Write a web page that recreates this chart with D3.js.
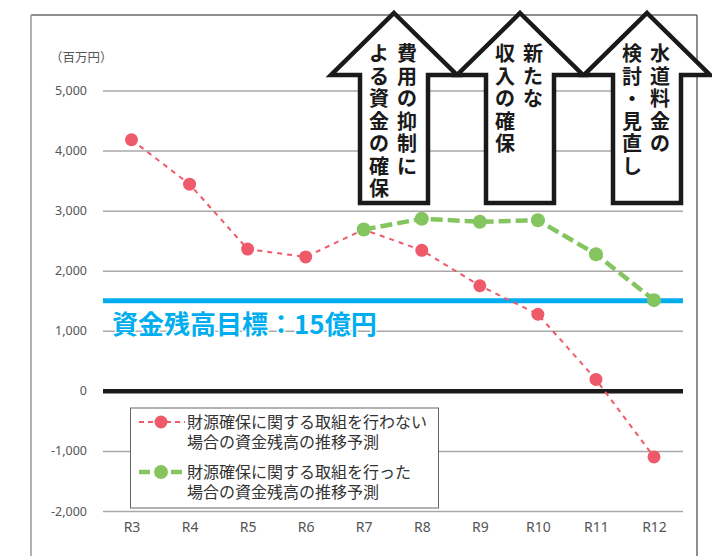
<!DOCTYPE html>
<html>
<head>
<meta charset="utf-8">
<script src="https://cdn.jsdelivr.net/npm/d3@7"></script>
<style>
  html, body { margin: 0; padding: 0; background: #fff; }
  svg { display: block; }
</style>
</head>
<body>
<div id="chart"></div>
<script>
// data (百万円)
const years = ['R3', 'R4', 'R5', 'R6', 'R7', 'R8', 'R9', 'R10', 'R11', 'R12'];
const noActionValues = [4180, 3440, 2360, 2230, 2685, 2340, 1750, 1275, 190, -1100];
const withActionValues = [null, null, null, null, 2685, 2865, 2815, 2840, 2275, 1510];
const yTicks = [5000, 4000, 3000, 2000, 1000, 0, -1000, -2000];
const yTickLabels = ['5,000', '4,000', '3,000', '2,000', '1,000', '0', '-1,000', '-2,000'];
const targetValue = 1500;
const targetLabel = '資金残高目標：15億円';
const unitLabel = '（百万円）';
const legendLabels = [
  ['財源確保に関する取組を行わない', '場合の資金残高の推移予測'],
  ['財源確保に関する取組を行った', '場合の資金残高の推移予測']
];
// arrow columns, right column first (vertical text)
const arrowTexts = [
  ['費用の抑制に', 'よる資金の確保'],
  ['新たな', '収入の確保'],
  ['水道料金の', '検討・見直し']
];

const width = 712, height = 556;
const RED = '#ef5a6b', GREEN = '#84c55f', BLUE = '#00aeef';
const JP = '"Noto Sans CJK JP", "Noto Sans", sans-serif';

const svg = d3.select('#chart')
  .append('svg')
  .attr('width', width)
  .attr('height', height);

// X scale (points)
const x = d3.scalePoint()
  .domain(years)
  .range([131.5, 654]);

// Y scale
const y = d3.scaleLinear()
  .domain([-2000, 5000])
  .range([511, 90.5]);

const gridLeft = 103, gridRight = 683;

// outer frame
svg.append('line').attr('x1', 31).attr('x2', 697).attr('y1', 15).attr('y2', 15)
  .attr('stroke', '#222').attr('stroke-width', 1.2);
svg.append('line').attr('x1', 31).attr('x2', 31).attr('y1', 15).attr('y2', height)
  .attr('stroke', '#999').attr('stroke-width', 1.5);
svg.append('line').attr('x1', 697).attr('x2', 697).attr('y1', 15).attr('y2', height)
  .attr('stroke', '#444').attr('stroke-width', 1.2);

// Y axis with grid
const yAxis = svg.append('g')
  .attr('transform', `translate(${gridLeft},0)`)
  .call(d3.axisLeft(y)
    .tickValues(yTicks)
    .tickSize(-(gridRight - gridLeft))
    .tickPadding(16)
    .tickFormat((d, i) => yTickLabels[i]));
yAxis.select('.domain').remove();
yAxis.selectAll('line')
  .attr('stroke', d => d === 0 ? '#1a1a1a' : '#a8a8a8')
  .attr('stroke-width', d => d === 0 ? 4.5 : 1.5);
yAxis.selectAll('text')
  .attr('font-family', '"Noto Sans", sans-serif')
  .attr('font-size', '12.5px')
  .attr('fill', '#555');

svg.append('text')
  .attr('x', 50)
  .attr('y', 62)
  .attr('font-family', JP)
  .attr('font-size', '12.5px')
  .attr('fill', '#555')
  .text(unitLabel);

// X axis labels
const xAxis = svg.append('g')
  .attr('transform', `translate(0,${y(-2000)})`)
  .call(d3.axisBottom(x).tickSize(0).tickPadding(11));
xAxis.select('.domain').remove();
xAxis.selectAll('text')
  .attr('font-family', '"Liberation Sans Narrow", "Noto Sans", sans-serif')
  .attr('font-size', '14px')
  .attr('fill', '#555');

// target line
svg.append('line')
  .attr('x1', gridLeft).attr('x2', gridRight)
  .attr('y1', y(targetValue)).attr('y2', y(targetValue))
  .attr('stroke', BLUE)
  .attr('stroke-width', 5);

svg.append('text')
  .attr('x', 112)
  .attr('y', 334)
  .attr('font-family', JP)
  .attr('font-weight', 700)
  .attr('font-size', '26px')
  .attr('fill', BLUE)
  .attr('stroke', '#fff')
  .attr('stroke-width', 3)
  .attr('paint-order', 'stroke')
  .text(targetLabel);

// legend
const legend = svg.append('g');
legend.append('rect')
  .attr('x', 130.5).attr('y', 408)
  .attr('width', 308).attr('height', 100)
  .attr('fill', '#fff')
  .attr('stroke', '#666')
  .attr('stroke-width', 1);

const legendRows = [
  { color: RED, dash: '5 4', w: 2, r: 6.5, y: 422 },
  { color: GREEN, dash: '11 5', w: 4.5, r: 7, y: 472 }
];
legendRows.forEach((row, i) => {
  legend.append('line')
    .attr('x1', 139).attr('x2', 185)
    .attr('y1', row.y).attr('y2', row.y)
    .attr('stroke', row.color)
    .attr('stroke-width', row.w)
    .attr('stroke-dasharray', row.dash);
  legend.append('circle')
    .attr('cx', 161).attr('cy', row.y)
    .attr('r', row.r)
    .attr('fill', row.color);
  const label = legend.append('text')
    .attr('font-family', JP)
    .attr('font-size', '16px')
    .attr('fill', '#333');
  legendLabels[i].forEach((t, j) => {
    label.append('tspan')
      .attr('x', 187)
      .attr('y', row.y + j * 20)
      .attr('dy', '0.36em')
      .text(t);
  });
});

// lines
const line = d3.line()
  .defined(d => d.value != null)
  .x(d => x(d.year))
  .y(d => y(d.value));

const redData = years.map((yr, i) => ({ year: yr, value: noActionValues[i] }));
const greenData = years.map((yr, i) => ({ year: yr, value: withActionValues[i] }));

svg.append('path')
  .datum(redData)
  .attr('fill', 'none')
  .attr('stroke', RED)
  .attr('stroke-width', 2)
  .attr('stroke-dasharray', '5 5')
  .attr('d', line);

svg.selectAll('.dot-red')
  .data(redData)
  .enter()
  .append('circle')
  .attr('class', 'dot-red')
  .attr('cx', d => x(d.year))
  .attr('cy', d => y(d.value))
  .attr('r', 6.5)
  .attr('fill', RED);

svg.append('path')
  .datum(greenData)
  .attr('fill', 'none')
  .attr('stroke', GREEN)
  .attr('stroke-width', 4.5)
  .attr('stroke-dasharray', '12 5')
  .attr('d', line);

svg.selectAll('.dot-green')
  .data(greenData.filter(d => d.value != null))
  .enter()
  .append('circle')
  .attr('class', 'dot-green')
  .attr('cx', d => x(d.year))
  .attr('cy', d => y(d.value))
  .attr('r', 7)
  .attr('fill', GREEN);

// arrows
const arrowCenters = [394, 520, 647];
const tipY = 13, wingY = 75, bottomY = 203, shaftHalf = 34, wingHalf = 63;

arrowTexts.forEach((cols, i) => {
  const cx = arrowCenters[i];
  const g = svg.append('g');
  const pts = [
    [cx, tipY], [cx + wingHalf, wingY], [cx + shaftHalf, wingY], [cx + shaftHalf, bottomY],
    [cx - shaftHalf, bottomY], [cx - shaftHalf, wingY], [cx - wingHalf, wingY]
  ];
  g.append('path')
    .attr('d', 'M' + pts.map(p => p.join(',')).join('L') + 'Z')
    .attr('fill', '#fff')
    .attr('stroke', '#1a1a1a')
    .attr('stroke-width', 4.5)
    .attr('stroke-linejoin', 'miter');

  // vertical text: one glyph per text element, stacked
  cols.forEach((col, c) => {
    const colX = cx + (c === 0 ? 13 : -15);
    Array.from(col).forEach((ch, k) => {
      g.append('text')
        .attr('x', colX)
        .attr('y', 54 + k * 22.5)
        .attr('dy', '0.36em')
        .attr('text-anchor', 'middle')
        .attr('font-family', JP)
        .attr('font-weight', 700)
        .attr('font-size', '20px')
        .attr('fill', '#1a1a1a')
        .text(ch);
    });
  });
});
</script>
</body>
</html>
